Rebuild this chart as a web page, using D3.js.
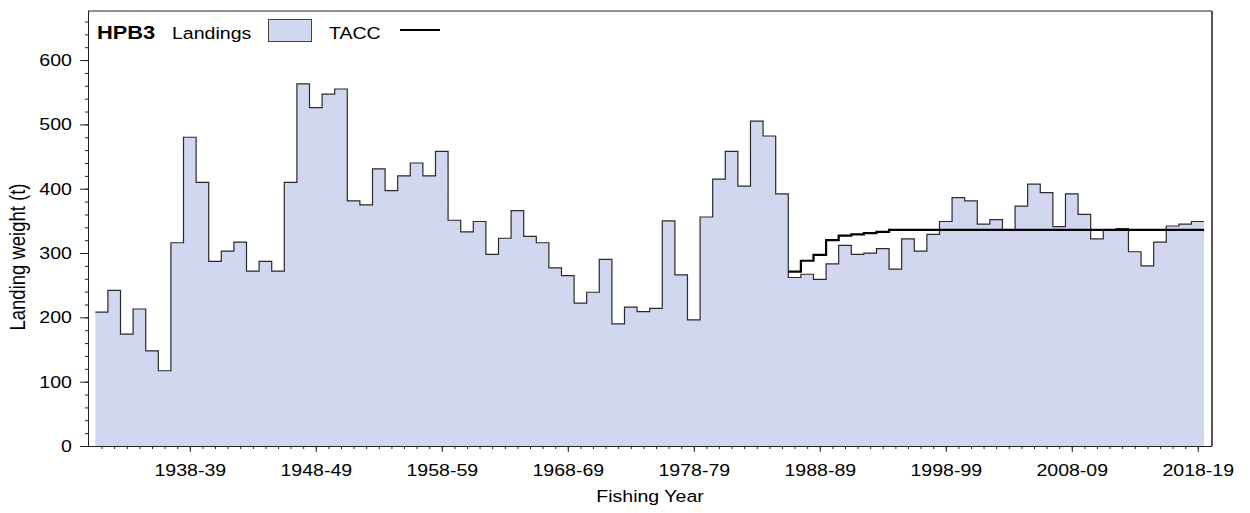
<!DOCTYPE html>
<html>
<head>
<meta charset="utf-8">
<script src="https://cdn.jsdelivr.net/npm/d3@7"></script>
<style>
  html, body { margin: 0; padding: 0; background: #fff; }
  svg { display: block; }
  text { font-family: "Liberation Sans", Arial, sans-serif; fill: #000; }
</style>
</head>
<body>
<svg id="chart" width="1250" height="513"></svg>
<script>
// ---- Data ----
const stockName = "HPB3";
const fishingYears = [
  "1931-32","1932-33","1933-34","1934-35","1935-36","1936-37","1937-38","1938-39","1939-40","1940-41",
  "1941-42","1942-43","1943-44","1944-45","1945-46","1946-47","1947-48","1948-49","1949-50","1950-51",
  "1951-52","1952-53","1953-54","1954-55","1955-56","1956-57","1957-58","1958-59","1959-60","1960-61",
  "1961-62","1962-63","1963-64","1964-65","1965-66","1966-67","1967-68","1968-69","1969-70","1970-71",
  "1971-72","1972-73","1973-74","1974-75","1975-76","1976-77","1977-78","1978-79","1979-80","1980-81",
  "1981-82","1982-83","1983-84","1984-85","1985-86","1986-87","1987-88","1988-89","1989-90","1990-91",
  "1991-92","1992-93","1993-94","1994-95","1995-96","1996-97","1997-98","1998-99","1999-00","2000-01",
  "2001-02","2002-03","2003-04","2004-05","2005-06","2006-07","2007-08","2008-09","2009-10","2010-11",
  "2011-12","2012-13","2013-14","2014-15","2015-16","2016-17","2017-18","2018-19"
];
const landings = [
  208, 242, 174, 213, 148, 117, 316, 480, 410, 287,
  303, 317, 272, 287, 272, 410, 563, 526, 547, 555,
  381, 375, 431, 397, 420, 440, 420, 458, 351, 333,
  349, 298, 323, 366, 326, 316, 277, 265, 222, 239,
  290, 190, 216, 209, 214, 350, 266, 196, 356, 415,
  458, 404, 505, 482, 392, 262, 267, 259, 283, 312,
  298, 300, 307, 275, 322, 303, 329, 349, 386, 381,
  345, 352, 336, 373, 407, 394, 341, 392, 360, 322,
  336, 338, 302, 280, 317, 342, 345, 349
];
const taccYears = [
  "1986-87","1987-88","1988-89","1989-90","1990-91","1991-92","1992-93","1993-94","1994-95","1995-96",
  "1996-97","1997-98","1998-99","1999-00","2000-01","2001-02","2002-03","2003-04","2004-05","2005-06",
  "2006-07","2007-08","2008-09","2009-10","2010-11","2011-12","2012-13","2013-14","2014-15","2015-16",
  "2016-17","2017-18","2018-19"
];
const tacc = [
  271, 288, 297, 320, 327, 329, 331, 333, 336, 336,
  336, 336, 336, 336, 336, 336, 336, 336, 336, 336,
  336, 336, 336, 336, 336, 336, 336, 336, 336, 336,
  336, 336, 336
];
const xTickLabels = ["1938-39","1948-49","1958-59","1968-69","1978-79","1988-89","1998-99","2008-09","2018-19"];
const yTickValues = [0, 100, 200, 300, 400, 500, 600];
const legendLabels = ["Landings", "TACC"];
const xTitle = "Fishing Year";
const yTitle = "Landing weight (t)";

// ---- Layout ----
const svg = d3.select("#chart");
const L = 88, R = 1212, T = 11, B = 446;
const STRETCH = 1.15;
const fillColor = "#d2d7f0";
const font = 17;

const startYear = s => +s.slice(0, 4);

const x = d3.scaleLinear().domain([1930.42, 2019.63]).range([L, R]);
const y = d3.scaleLinear().domain([0, 676.3]).range([B, T]);

// step data (with closing point at the end of the last year)
const landData = fishingYears.map((fy, i) => ({ yr: startYear(fy), v: landings[i] }));
landData.push({ yr: startYear(fishingYears[fishingYears.length - 1]) + 1, v: landings[landings.length - 1] });
const taccData = taccYears.map((fy, i) => ({ yr: startYear(fy), v: tacc[i] }));
taccData.push({ yr: startYear(taccYears[taccYears.length - 1]) + 1, v: tacc[tacc.length - 1] });

// area
svg.append("path")
  .datum(landData)
  .attr("d", d3.area().curve(d3.curveStepAfter).x(d => x(d.yr)).y0(y(0)).y1(d => y(d.v)))
  .attr("fill", fillColor);

// landings step line
svg.append("path")
  .datum(landData)
  .attr("d", d3.line().curve(d3.curveStepAfter).x(d => x(d.yr)).y(d => y(d.v)))
  .attr("fill", "none").attr("stroke", "#2a2a2a").attr("stroke-width", 1.2);

// TACC line
svg.append("path")
  .datum(taccData)
  .attr("d", d3.line().curve(d3.curveStepAfter).x(d => x(d.yr)).y(d => y(d.v)))
  .attr("fill", "none").attr("stroke", "#000").attr("stroke-width", 2.2);

// frame (top and right)
svg.append("line").attr("x1", L).attr("x2", R).attr("y1", T).attr("y2", T)
  .attr("stroke", "#222").attr("stroke-width", 1);
svg.append("line").attr("x1", R).attr("x2", R).attr("y1", T).attr("y2", B)
  .attr("stroke", "#555").attr("stroke-width", 2);

// y axis: minor ticks
const yMinor = d3.range(0, 661, 20);
svg.append("g").attr("transform", `translate(${L},0)`)
  .call(d3.axisLeft(y).tickValues(yMinor).tickSize(3).tickFormat(""))
  .call(g => g.select(".domain").remove())
  .selectAll("line").attr("stroke", "#222");
// y axis: major ticks
const gy = svg.append("g").attr("transform", `translate(${L},0)`)
  .call(d3.axisLeft(y).tickValues(yTickValues).tickSize(8).tickPadding(6).tickSizeOuter(0));
gy.select(".domain").attr("stroke", "#222").attr("d", `M0.5,${T}V${B}`);
gy.selectAll("line").attr("stroke", "#222");
gy.selectAll("text").attr("font-size", font).attr("font-family", null)
  .attr("transform", `scale(${STRETCH},1)`);

// x axis: minor ticks (every fishing year, centered)
const xMinor = fishingYears.map(fy => startYear(fy) + 0.5);
svg.append("g").attr("transform", `translate(0,${B})`)
  .call(d3.axisBottom(x).tickValues(xMinor).tickSize(3).tickFormat(""))
  .call(g => g.select(".domain").remove())
  .selectAll("line").attr("stroke", "#222");
// x axis: labelled ticks
const gx = svg.append("g").attr("transform", `translate(0,${B})`)
  .call(d3.axisBottom(x).tickValues(xTickLabels.map(s => startYear(s) + 0.5))
    .tickSize(6).tickPadding(12).tickSizeOuter(0)
    .tickFormat((d, i) => xTickLabels[i]));
gx.select(".domain").attr("stroke", "#222").attr("d", `M${L},0.5H${R}`);
gx.selectAll("line").attr("stroke", "#222");
gx.selectAll("text").attr("font-size", font).attr("font-family", null)
  .attr("transform", `scale(${STRETCH},1)`);

// axis titles
svg.append("text")
  .attr("transform", `translate(650,502) scale(${STRETCH},1)`)
  .attr("text-anchor", "middle").attr("font-size", font).text(xTitle);
svg.append("text")
  .attr("transform", `translate(25,257) rotate(-90) scale(1,${STRETCH})`)
  .attr("text-anchor", "middle").attr("font-size", 18.5).text(yTitle);

// legend
function stretchedText(tx, ty, str, size, weight) {
  svg.append("text")
    .attr("transform", `translate(${tx},${ty}) scale(${STRETCH},1)`)
    .attr("font-size", size).attr("font-weight", weight || "normal").text(str);
}
stretchedText(97, 39, stockName, 19, "bold");
stretchedText(172, 39, legendLabels[0], font);
svg.append("rect").attr("x", 268.5).attr("y", 19.5).attr("width", 43).attr("height", 22)
  .attr("fill", fillColor).attr("stroke", "#444").attr("stroke-width", 1);
stretchedText(329, 39, legendLabels[1], font);
svg.append("line").attr("x1", 400).attr("x2", 440).attr("y1", 30).attr("y2", 30)
  .attr("stroke", "#000").attr("stroke-width", 2.2);
</script>
</body>
</html>
